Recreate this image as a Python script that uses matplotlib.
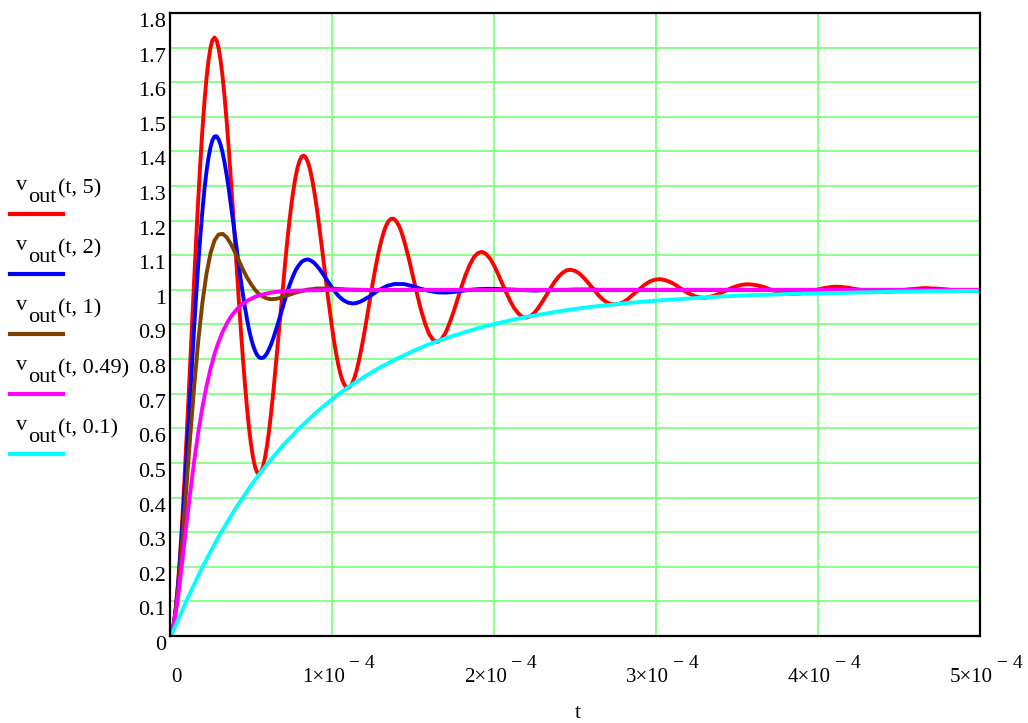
import numpy as np
import matplotlib
matplotlib.use("Agg")
import matplotlib.pyplot as plt
from matplotlib.lines import Line2D

plt.rcParams['font.family'] = ['Liberation Serif', 'DejaVu Serif']

# sample times in microseconds, one grid per curve
t_q5 = np.r_[np.arange(0, 150, 1.25), np.arange(150, 502.5, 2.5)]
t_q2 = np.r_[np.arange(0, 150, 1.25), np.arange(150, 300, 5), [300, 400, 500]]
t_q1 = np.r_[np.arange(0, 100, 2.5), np.arange(100, 200, 10), np.arange(200, 550, 50)]
t_q049 = np.r_[np.arange(0, 80, 2.5), np.arange(80, 150, 10), np.arange(150, 550, 50)]
t_q01 = np.r_[np.arange(0, 10, 2.5), np.arange(10, 510, 10)]

# vout(t, 5)
v_q5 = [0.000, 0.010, 0.040, 0.089, 0.155, 0.236, 0.330, 0.436, 0.550, 0.669,
        0.793, 0.916, 1.038, 1.156, 1.267, 1.370, 1.462, 1.543, 1.610, 1.662,
        1.700, 1.722, 1.729, 1.721, 1.699,
        1.663, 1.614, 1.555, 1.486, 1.409, 1.325, 1.238, 1.148, 1.058, 0.969,
        0.883, 0.802, 0.728, 0.661, 0.602, 0.554, 0.516, 0.489, 0.473, 0.468,
        0.474, 0.491, 0.518, 0.553, 0.597,
        0.648, 0.704, 0.765, 0.829, 0.894, 0.960, 1.025, 1.087, 1.146, 1.200,
        1.249, 1.291, 1.326, 1.354, 1.373, 1.385, 1.388, 1.383, 1.371, 1.351,
        1.325, 1.293, 1.256, 1.215, 1.170,
        1.123, 1.075, 1.027, 0.980, 0.935, 0.892, 0.852, 0.817, 0.787, 0.761,
        0.741, 0.727, 0.719, 0.717, 0.721, 0.730, 0.745, 0.764, 0.788, 0.815,
        0.845, 0.877, 0.911, 0.946, 0.981,
        1.016, 1.049, 1.080, 1.109, 1.134, 1.156, 1.175, 1.189, 1.199, 1.205,
        1.206, 1.203, 1.196, 1.186, 1.172, 1.154, 1.134, 1.112, 1.089, 1.064,
        1.038, 0.988, 0.941, 0.902, 0.872,
        0.855, 0.850, 0.857, 0.875, 0.903, 0.936, 0.973, 1.010, 1.044, 1.072,
        1.094, 1.106, 1.110, 1.104, 1.091, 1.071, 1.046, 1.019, 0.993, 0.968,
        0.947, 0.932, 0.922, 0.920, 0.924,
        0.934, 0.949, 0.967, 0.986, 1.006, 1.024, 1.039, 1.050, 1.057, 1.058,
        1.055, 1.048, 1.037, 1.024, 1.010, 0.996, 0.982, 0.971, 0.963, 0.959,
        0.958, 0.960, 0.965, 0.973, 0.983,
        0.993, 1.003, 1.013, 1.021, 1.027, 1.030, 1.031, 1.029, 1.025, 1.020,
        1.013, 1.005, 0.997, 0.990, 0.985, 0.980, 0.978, 0.977, 0.979, 0.982,
        0.986, 0.991, 0.996, 1.002, 1.007,
        1.011, 1.014, 1.016, 1.016, 1.015, 1.013, 1.010, 1.007, 1.002, 0.998,
        0.995, 0.992, 0.990, 0.988, 0.988, 0.989, 0.990, 0.993, 0.995, 0.998,
        1.001, 1.004, 1.006, 1.008, 1.009,
        1.009, 1.008, 1.007, 1.005, 1.003, 1.001, 0.999, 0.997, 0.996, 0.994,
        0.994, 0.994, 0.994, 0.995, 0.996, 0.998, 0.999, 1.001, 1.002, 1.003,
        1.004, 1.005, 1.005, 1.004, 1.004,
        1.003, 1.002, 1.001, 0.999, 0.998, 0.998, 0.997, 0.997, 0.997, 0.997,
        0.997]
# vout(t, 2)
v_q2 = [0.000, 0.010, 0.039, 0.085, 0.147, 0.220, 0.305, 0.397, 0.495, 0.596,
        0.698, 0.799, 0.898, 0.991, 1.078, 1.157, 1.228, 1.290, 1.341, 1.382,
        1.412, 1.433, 1.443, 1.444, 1.435,
        1.419, 1.396, 1.366, 1.331, 1.292, 1.249, 1.205, 1.160, 1.115, 1.070,
        1.027, 0.987, 0.950, 0.916, 0.886, 0.861, 0.840, 0.824, 0.812, 0.805,
        0.803, 0.804, 0.809, 0.818, 0.830,
        0.844, 0.860, 0.878, 0.897, 0.917, 0.938, 0.958, 0.977, 0.996, 1.013,
        1.029, 1.043, 1.056, 1.066, 1.074, 1.081, 1.085, 1.087, 1.088, 1.086,
        1.083, 1.079, 1.073, 1.066, 1.059,
        1.050, 1.042, 1.033, 1.024, 1.015, 1.007, 0.999, 0.991, 0.984, 0.978,
        0.973, 0.969, 0.966, 0.963, 0.962, 0.961, 0.961, 0.962, 0.964, 0.966,
        0.969, 0.972, 0.976, 0.979, 0.983,
        0.987, 0.991, 0.995, 0.999, 1.002, 1.005, 1.008, 1.011, 1.013, 1.014,
        1.016, 1.017, 1.017, 1.017, 1.017, 1.017, 1.016, 1.015, 1.013, 1.012,
        1.010, 1.003, 0.997, 0.993, 0.992,
        0.994, 0.997, 1.000, 1.002, 1.003, 1.003, 1.002, 1.001, 1.000, 0.999,
        0.998, 0.999, 0.999, 1.000, 1.000, 1.001, 1.001, 1.001, 1.000, 1.000,
        1.000, 1.000, 1.000, 1.000, 1.000,
        1.000, 1.000, 1.000]
# vout(t, 1)
v_q1 = [0.000, 0.037, 0.134, 0.268, 0.421, 0.577, 0.725, 0.855, 0.963, 1.046,
        1.106, 1.143, 1.160, 1.162, 1.152, 1.133, 1.110, 1.085, 1.059, 1.036,
        1.017, 1.000, 0.988, 0.980, 0.975, 0.973, 0.974, 0.976, 0.980, 0.984,
        0.988, 0.992, 0.995, 0.998, 1.001, 1.002, 1.004, 1.004, 1.004, 1.004,
        1.004, 1.001, 1.000, 0.999, 1.000, 1.000, 1.000, 1.000, 1.000, 1.000,
        1.000, 1.000, 1.000, 1.000, 1.000, 1.000, 1.000]
# vout(t, 0.49)
v_q049 = [0.000, 0.034, 0.113, 0.212, 0.316, 0.416, 0.508, 0.590, 0.661, 0.721,
          0.772, 0.815, 0.850, 0.879, 0.902, 0.922, 0.937, 0.950, 0.960, 0.968,
          0.974, 0.980, 0.984, 0.987, 0.990, 0.992, 0.994, 0.995, 0.996, 0.997,
          0.997, 0.998, 0.998, 0.999, 1.000, 1.000, 1.000, 1.000, 1.000, 1.000,
          1.000, 1.000, 1.000, 1.000, 1.000, 1.000, 1.000]
# vout(t, 0.1)
v_q01 = [0.000, 0.019, 0.047, 0.074, 0.100, 0.199, 0.287, 0.365, 0.435, 0.497,
         0.552, 0.601, 0.645, 0.684, 0.719, 0.749, 0.777, 0.801, 0.823, 0.843,
         0.860, 0.875, 0.889, 0.901, 0.912, 0.922, 0.930, 0.938, 0.945, 0.951,
         0.956, 0.961, 0.965, 0.969, 0.972, 0.975, 0.978, 0.981, 0.983, 0.985,
         0.986, 0.988, 0.989, 0.990, 0.991, 0.992, 0.993, 0.994, 0.995, 0.995,
         0.996, 0.996, 0.997, 0.997]

params = ['5', '2', '1', '0.49', '0.1']
colors = ['#ff0000', '#0000ff', '#804000', '#ff00ff', '#00ffff']
times = [t_q5, t_q2, t_q1, t_q049, t_q01]
values = [v_q5, v_q2, v_q1, v_q049, v_q01]

x_ticks = [0, 1e-4, 2e-4, 3e-4, 4e-4, 5e-4]
x_mant = ['0', '1', '2', '3', '4', '5']
y_ticks = [0, 0.1, 0.2, 0.3, 0.4, 0.5, 0.6, 0.7, 0.8, 0.9, 1.0,
           1.1, 1.2, 1.3, 1.4, 1.5, 1.6, 1.7, 1.8]
y_labels = ['0', '0.1', '0.2', '0.3', '0.4', '0.5', '0.6', '0.7', '0.8', '0.9', '1',
            '1.1', '1.2', '1.3', '1.4', '1.5', '1.6', '1.7', '1.8']

W, H = 1028, 723
fig = plt.figure(figsize=(W / 100, H / 100), dpi=100)
ax = fig.add_axes([170 / W, 1 - 636 / H, 810 / W, 623 / H])

for t, v, c in zip(times, values, colors):
    ax.plot(t * 1e-6, v, color=c, lw=2.8, solid_capstyle='round')

ax.set_xlim(0, 5e-4)
ax.set_ylim(0, 1.8)
ax.set_xticks(x_ticks)
ax.set_yticks(y_ticks)
ax.set_xticklabels([])
ax.set_yticklabels([])
ax.tick_params(length=0)
ax.grid(True, color='#80ff80', lw=1.3)
ax.set_axisbelow(True)
for s in ax.spines.values():
    s.set_linewidth(1.6)
    s.set_color('black')

fs = 16
# x tick labels, Mathcad style  k×10^-4
for xv, m in zip(x_ticks, x_mant):
    if m == '0':
        ax.annotate('0', xy=(xv, 0), xycoords=('data', 'axes fraction'),
                    xytext=(6, -46), textcoords='offset pixels',
                    ha='center', va='baseline', fontsize=15)
        continue
    ax.annotate(m + '\u00d710', xy=(xv, 0), xycoords=('data', 'axes fraction'),
                xytext=(13, -46), textcoords='offset pixels',
                ha='right', va='baseline', fontsize=15, annotation_clip=False)
    ax.annotate('\u2212 4', xy=(xv, 0), xycoords=('data', 'axes fraction'),
                xytext=(17, -32), textcoords='offset pixels',
                ha='left', va='baseline', fontsize=14, annotation_clip=False)

# y tick labels hang below their grid lines
for yv, lab in zip(y_ticks, y_labels):
    ax.annotate(lab, xy=(0, yv), xycoords=('axes fraction', 'data'),
                xytext=(-4, -14), textcoords='offset pixels',
                ha='right', va='baseline', fontsize=fs, annotation_clip=False)

ax.set_xlabel('t', fontsize=fs)
ax.xaxis.label.set_va('baseline')
ax.xaxis.set_label_coords(0.504, -(718 - 636) / 623)

# legend on the left
for i, (p, c) in enumerate(zip(params, colors)):
    yb = 190 + 60 * i
    fig.text(16 / W, 1 - yb / H, 'v', fontsize=fs, va='baseline')
    fig.text(28 / W, 1 - (yb + 12) / H, 'out', fontsize=fs, va='baseline')
    fig.text(58 / W, 1 - (yb + 3) / H, '(t, ' + p + ')', fontsize=fs, va='baseline')
    fig.add_artist(Line2D([10 / W, 63 / W], [1 - (yb + 24) / H] * 2,
                          transform=fig.transFigure, color=c, lw=3))

fig.savefig('out.png', dpi=100)
